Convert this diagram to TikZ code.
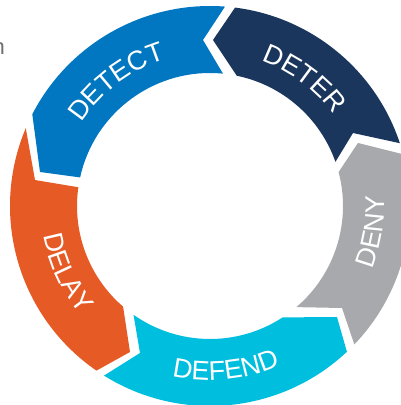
\documentclass[tikz,border=0pt]{standalone}
\usepackage{fontspec}
\setmainfont{Liberation Sans}
\usetikzlibrary{calc,decorations.text}
\definecolor{cdeter}{HTML}{1B365D}
\definecolor{cdetect}{HTML}{0077C0}
\definecolor{cdelay}{HTML}{E65A26}
\definecolor{cdefend}{HTML}{00BFDE}
\definecolor{cdeny}{HTML}{A7A9AC}
\definecolor{ngray}{HTML}{6D6E71}
\newcommand\ringfont{\color{white}\fontsize{27}{27}\selectfont}
\tikzset{
  ringtext/.style={decorate, decoration={text along path, text align=center, text={|\ringfont|#1}}}
}
\begin{document}
\begin{tikzpicture}[x=1pt,y=1pt]
\clip (0,0) rectangle (401,405);
\useasboundingbox (0,0) rectangle (401,405);
\coordinate (C) at (210,199);
% DETER
\fill[cdeter] ($(C)+(18.3:200pt)$) arc[start angle=18.3,end angle=82.8,radius=200pt] -- (213,365) -- ($(C)+(78.4:133pt)$) arc[start angle=78.4,end angle=19.4,radius=133pt] -- (353,272) -- cycle;
% DETECT
\fill[cdetect] ($(C)+(85.7:200pt)$) arc[start angle=85.7,end angle=152.7,radius=200pt] -- (40,233) -- ($(C)+(167.6:133pt)$) arc[start angle=167.6,end angle=84.4,radius=133pt] -- (203,365) -- cycle;
% DELAY
\fill[cdelay] ($(C)+(157.1:200pt)$) arc[start angle=157.1,end angle=235.4,radius=200pt] -- (130,53) -- ($(C)+(229.2:133pt)$) arc[start angle=229.2,end angle=171.9,radius=133pt] -- (35,225) -- cycle;
% DEFEND
\fill[cdefend] ($(C)+(238:200pt)$) arc[start angle=238,end angle=313.2,radius=200pt] -- (337,88) -- ($(C)+(303.1:133pt)$) arc[start angle=303.1,end angle=234.9,radius=133pt] -- (140,52) -- cycle;
% DENY
\fill[cdeny] ($(C)+(316.2:200pt)$) arc[start angle=316.2,end angle=375,radius=200pt] -- (358,262) -- ($(C)+(374.8:133pt)$) arc[start angle=374.8,end angle=310.5,radius=133pt] -- (342,97) -- cycle;
% labels
\path[ringtext=DETER] ($(C)+(95:154pt)$) arc[start angle=95,end angle=12,radius=154pt];
\path[ringtext=DETECT] ($(C)+(168:153pt)$) arc[start angle=168,end angle=86,radius=153pt];
\path[ringtext=DENY] ($(C)+(311:174pt)$) arc[start angle=311,end angle=391,radius=174pt];
\path[ringtext=DEFEND] ($(C)+(235.6:174pt)$) arc[start angle=235.6,end angle=315.6,radius=174pt];
\path[ringtext=DELAY] ($(C)+(165:169pt)$) arc[start angle=165,end angle=245,radius=169pt];
\node[text=ngray, anchor=base east, inner sep=0pt, font=\fontsize{22}{22}\selectfont] (ntext) at (5,350) {n};
\end{tikzpicture}
\end{document}
